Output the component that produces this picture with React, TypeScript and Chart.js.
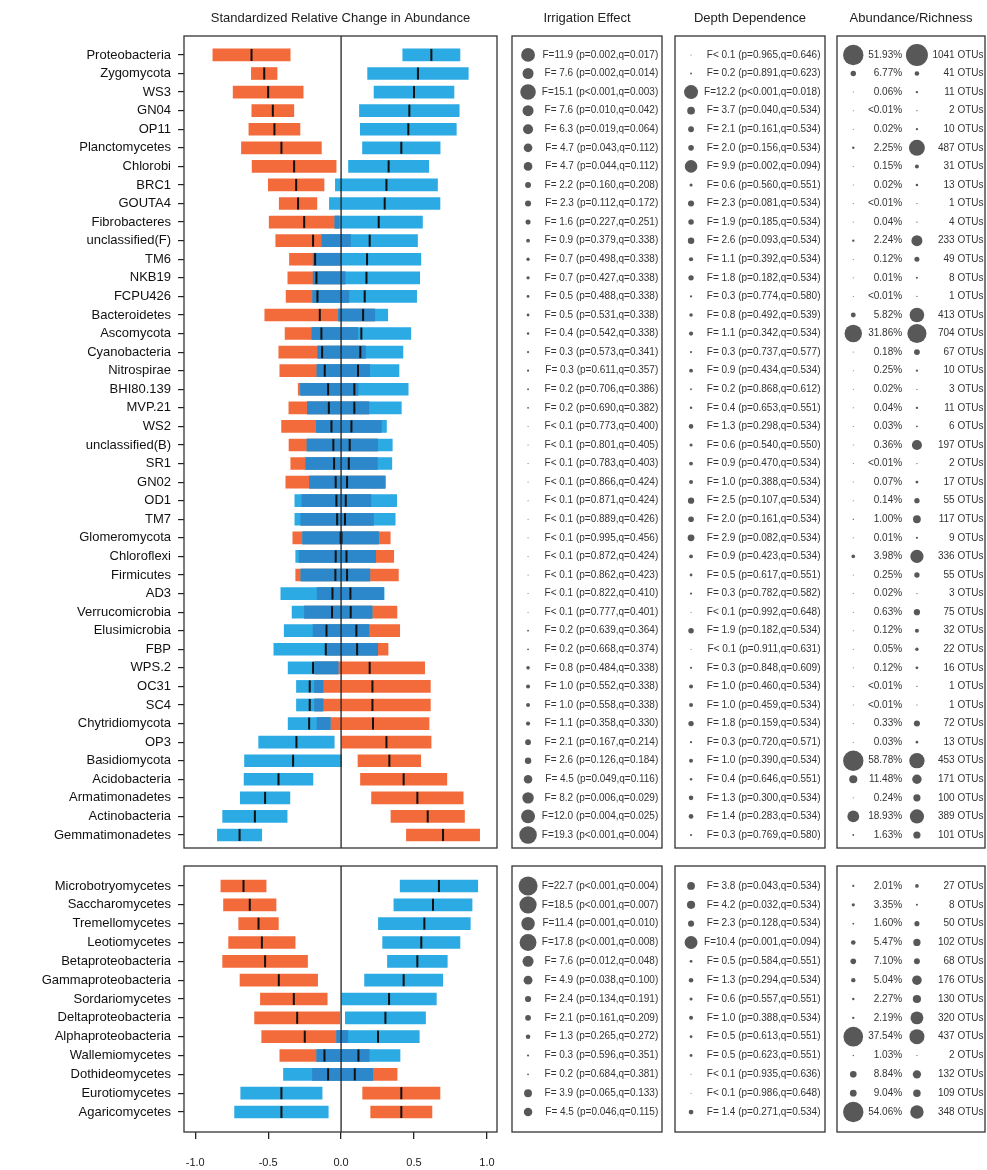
import React, { useEffect, useRef } from "react";
import { Chart, registerables } from "chart.js";

Chart.register(...registerables);
Chart.defaults.font.family = "'Liberation Sans', Arial, Helvetica, sans-serif";
Chart.defaults.color = "#222";

// ---------------- data ----------------
const topTaxa = [
  "Proteobacteria", "Zygomycota", "WS3", "GN04", "OP11", "Planctomycetes", "Chlorobi", "BRC1", "GOUTA4",
  "Fibrobacteres", "unclassified(F)", "TM6", "NKB19", "FCPU426", "Bacteroidetes", "Ascomycota", "Cyanobacteria",
  "Nitrospirae", "BHI80.139", "MVP.21", "WS2", "unclassified(B)", "SR1", "GN02", "OD1", "TM7", "Glomeromycota",
  "Chloroflexi", "Firmicutes", "AD3", "Verrucomicrobia", "Elusimicrobia", "FBP", "WPS.2", "OC31", "SC4",
  "Chytridiomycota", "OP3", "Basidiomycota", "Acidobacteria", "Armatimonadetes", "Actinobacteria", "Gemmatimonadetes",
];
const topOrangeMean = [-0.614, -0.527, -0.5, -0.468, -0.457, -0.409, -0.322, -0.308, -0.295, -0.253, -0.192, -0.178, -0.169, -0.162, -0.146, -0.135, -0.13, -0.112, -0.089, -0.084, -0.066, -0.053, -0.048, -0.037, -0.032, -0.027, 0.003, 0.037, 0.041, 0.064, 0.066, 0.105, 0.11, 0.196, 0.215, 0.215, 0.219, 0.311, 0.331, 0.429, 0.523, 0.594, 0.699];
const topOrangeHalf = [0.265, 0.088, 0.24, 0.144, 0.175, 0.274, 0.288, 0.191, 0.129, 0.24, 0.256, 0.176, 0.196, 0.215, 0.377, 0.249, 0.297, 0.308, 0.205, 0.274, 0.342, 0.304, 0.297, 0.342, 0.236, 0.249, 0.334, 0.324, 0.352, 0.228, 0.317, 0.297, 0.212, 0.377, 0.397, 0.397, 0.384, 0.306, 0.215, 0.296, 0.314, 0.252, 0.251];
const topBlueMean = [0.619, 0.527, 0.5, 0.468, 0.461, 0.413, 0.326, 0.311, 0.299, 0.258, 0.196, 0.178, 0.174, 0.162, 0.151, 0.139, 0.132, 0.116, 0.091, 0.091, 0.071, 0.059, 0.053, 0.041, 0.032, 0.027, -0.003, -0.037, -0.039, -0.059, -0.062, -0.1, -0.105, -0.192, -0.215, -0.215, -0.219, -0.306, -0.329, -0.429, -0.521, -0.591, -0.696];
const topBlueHalf = [0.196, 0.345, 0.274, 0.342, 0.329, 0.266, 0.275, 0.35, 0.379, 0.3, 0.328, 0.369, 0.365, 0.356, 0.169, 0.339, 0.292, 0.281, 0.369, 0.322, 0.24, 0.292, 0.295, 0.258, 0.349, 0.344, 0.26, 0.274, 0.236, 0.354, 0.274, 0.29, 0.356, 0.171, 0.091, 0.091, 0.144, 0.259, 0.333, 0.236, 0.17, 0.221, 0.152];

const bottomTaxa = [
  "Microbotryomycetes", "Saccharomycetes", "Tremellomycetes", "Leotiomycetes", "Betaproteobacteria",
  "Gammaproteobacteria", "Sordariomycetes", "Deltaproteobacteria", "Alphaproteobacteria", "Wallemiomycetes",
  "Dothideomycetes", "Eurotiomycetes", "Agaricomycetes",
];
const botOrangeMean = [-0.669, -0.626, -0.566, -0.543, -0.521, -0.427, -0.324, -0.301, -0.249, -0.114, 0.094, 0.413, 0.413];
const botOrangeHalf = [0.155, 0.18, 0.136, 0.228, 0.291, 0.266, 0.229, 0.292, 0.295, 0.306, 0.29, 0.265, 0.21];
const botBlueMean = [0.671, 0.63, 0.571, 0.55, 0.523, 0.429, 0.329, 0.304, 0.253, 0.119, -0.089, -0.409, -0.409];
const botBlueHalf = [0.266, 0.268, 0.315, 0.265, 0.205, 0.268, 0.324, 0.275, 0.283, 0.285, 0.306, 0.279, 0.321];

const xTicks = [-1, -0.5, 0, 0.5, 1];

// Irrigation effect (F < 0.1 stored as 0.05, p < 0.001 stored as 0.0005)
const irrigTopF = [11.9, 7.6, 15.1, 7.6, 6.3, 4.7, 4.7, 2.2, 2.3, 1.6, 0.9, 0.7, 0.7, 0.5, 0.5, 0.4, 0.3, 0.3, 0.2, 0.2, 0.05, 0.05, 0.05, 0.05, 0.05, 0.05, 0.05, 0.05, 0.05, 0.05, 0.05, 0.2, 0.2, 0.8, 1.0, 1.0, 1.1, 2.1, 2.6, 4.5, 8.2, 12.0, 19.3];
const irrigTopP = [0.002, 0.002, 0.0005, 0.01, 0.019, 0.043, 0.044, 0.16, 0.112, 0.227, 0.379, 0.498, 0.427, 0.488, 0.531, 0.542, 0.573, 0.611, 0.706, 0.69, 0.773, 0.801, 0.783, 0.866, 0.871, 0.889, 0.995, 0.872, 0.862, 0.822, 0.777, 0.639, 0.668, 0.484, 0.552, 0.558, 0.358, 0.167, 0.126, 0.049, 0.006, 0.004, 0.0005];
const irrigTopQ = [0.017, 0.014, 0.003, 0.042, 0.064, 0.112, 0.112, 0.208, 0.172, 0.251, 0.338, 0.338, 0.338, 0.338, 0.338, 0.338, 0.341, 0.357, 0.386, 0.382, 0.4, 0.405, 0.403, 0.424, 0.424, 0.426, 0.456, 0.424, 0.423, 0.41, 0.401, 0.364, 0.374, 0.338, 0.338, 0.338, 0.33, 0.214, 0.184, 0.116, 0.029, 0.025, 0.004];
const irrigBotF = [22.7, 18.5, 11.4, 17.8, 7.6, 4.9, 2.4, 2.1, 1.3, 0.3, 0.2, 3.9, 4.5];
const irrigBotP = [0.0005, 0.0005, 0.001, 0.0005, 0.012, 0.038, 0.134, 0.161, 0.265, 0.596, 0.684, 0.065, 0.046];
const irrigBotQ = [0.004, 0.007, 0.01, 0.008, 0.048, 0.1, 0.191, 0.209, 0.272, 0.351, 0.381, 0.133, 0.115];

// Depth dependence
const depthTopF = [0.05, 0.2, 12.2, 3.7, 2.1, 2.0, 9.9, 0.6, 2.3, 1.9, 2.6, 1.1, 1.8, 0.3, 0.8, 1.1, 0.3, 0.9, 0.2, 0.4, 1.3, 0.6, 0.9, 1.0, 2.5, 2.0, 2.9, 0.9, 0.5, 0.3, 0.05, 1.9, 0.05, 0.3, 1.0, 1.0, 1.8, 0.3, 1.0, 0.4, 1.3, 1.4, 0.3];
const depthTopP = [0.965, 0.891, 0.0005, 0.04, 0.161, 0.156, 0.002, 0.56, 0.081, 0.185, 0.093, 0.392, 0.182, 0.774, 0.492, 0.342, 0.737, 0.434, 0.868, 0.653, 0.298, 0.54, 0.47, 0.388, 0.107, 0.161, 0.082, 0.423, 0.617, 0.782, 0.992, 0.182, 0.911, 0.848, 0.46, 0.459, 0.159, 0.72, 0.39, 0.646, 0.3, 0.283, 0.769];
const depthTopQ = [0.646, 0.623, 0.018, 0.534, 0.534, 0.534, 0.094, 0.551, 0.534, 0.534, 0.534, 0.534, 0.534, 0.58, 0.539, 0.534, 0.577, 0.534, 0.612, 0.551, 0.534, 0.55, 0.534, 0.534, 0.534, 0.534, 0.534, 0.534, 0.551, 0.582, 0.648, 0.534, 0.631, 0.609, 0.534, 0.534, 0.534, 0.571, 0.534, 0.551, 0.534, 0.534, 0.58];
const depthBotF = [3.8, 4.2, 2.3, 10.4, 0.5, 1.3, 0.6, 1.0, 0.5, 0.5, 0.05, 0.05, 1.4];
const depthBotP = [0.043, 0.032, 0.128, 0.001, 0.584, 0.294, 0.557, 0.388, 0.613, 0.623, 0.935, 0.986, 0.271];
const depthBotQ = [0.534, 0.534, 0.534, 0.094, 0.551, 0.534, 0.551, 0.534, 0.551, 0.551, 0.636, 0.648, 0.534];

// Abundance (%; <0.01 stored as 0.005) and richness (OTUs)
const abundTop = [51.93, 6.77, 0.06, 0.005, 0.02, 2.25, 0.15, 0.02, 0.005, 0.04, 2.24, 0.12, 0.01, 0.005, 5.82, 31.86, 0.18, 0.25, 0.02, 0.04, 0.03, 0.36, 0.005, 0.07, 0.14, 1.0, 0.01, 3.98, 0.25, 0.02, 0.63, 0.12, 0.05, 0.12, 0.005, 0.005, 0.33, 0.03, 58.78, 11.48, 0.24, 18.93, 1.63];
const otuTop = [1041, 41, 11, 2, 10, 487, 31, 13, 1, 4, 233, 49, 8, 1, 413, 704, 67, 10, 3, 11, 6, 197, 2, 17, 55, 117, 9, 336, 55, 3, 75, 32, 22, 16, 1, 1, 72, 13, 453, 171, 100, 389, 101];
const abundBot = [2.01, 3.35, 1.6, 5.47, 7.1, 5.04, 2.27, 2.19, 37.54, 1.03, 8.84, 9.04, 54.06];
const otuBot = [27, 8, 50, 102, 68, 176, 130, 320, 437, 2, 132, 109, 348];

// ---------------- layout / style ----------------
const FONT = "'Liberation Sans', Arial, Helvetica, sans-serif";
const ORANGE = "#F36B3B";
const BLUE = "#2BAAE3";
const DARK = "#2C88CB";
const DOT = "#585858";
const TOP_Y0 = 36, TOP_Y1 = 848, BOT_Y0 = 866, BOT_Y1 = 1132;
const BAR_X0 = 184, BAR_X1 = 497;
const X_MIN = -1.077, X_MAX = 1.069;
const TOP_YMIN = -1.02, TOP_YMAX = 42.7;
const BOT_YMIN = -1.06, BOT_YMAX = 13.06;
const TOP_CANVAS_H = 850;
const BOT_CANVAS_TOP = 850, BOT_CANVAS_H = 320;

const fmtF = (F: number, p: number, q: number) => {
  const fs = F < 0.1 ? "F< 0.1" : F >= 10 ? `F=${F.toFixed(1)}` : `F= ${F.toFixed(1)}`;
  const ps = p < 0.001 ? "p<0.001" : `p=${p.toFixed(3)}`;
  return `${fs} (${ps},q=${q.toFixed(3)})`;
};
const fmtPct = (v: number) => (v < 0.01 ? "<0.01%" : `${v.toFixed(2)}%`);
const fmtOtu = (n: number) => `${n} OTUs`;
const fSize = (F: number) => Math.max(0.5, 2.0 * Math.sqrt(F));
const pctSize = (p: number) => Math.max(0.5, Math.min(10.2, 0.65 * Math.pow(p, 0.75)));
const otuSize = (n: number) => Math.max(0.6, Math.min(11, 0.36 * Math.sqrt(n)));

const titleOpts = (text: string) => ({
  display: true,
  text,
  fullSize: false,
  color: "#222",
  font: { size: 13, weight: "normal" as const, family: FONT },
  padding: { top: 11, bottom: 9.4 },
});

const boxPlugin = {
  id: "panelBox",
  afterDraw(chart: any) {
    const { ctx, chartArea: a } = chart;
    ctx.save();
    ctx.strokeStyle = "#333";
    ctx.lineWidth = 1.3;
    ctx.strokeRect(a.left, a.top, a.right - a.left, a.bottom - a.top);
    ctx.restore();
  },
};

const zeroLinePlugin = {
  id: "zeroLine",
  afterDatasetsDraw(chart: any) {
    const { ctx, chartArea: a, scales } = chart;
    const x = scales.x.getPixelForValue(0);
    ctx.save();
    ctx.strokeStyle = "#222";
    ctx.lineWidth = 1.3;
    ctx.beginPath();
    ctx.moveTo(x, a.top);
    ctx.lineTo(x, a.bottom);
    ctx.stroke();
    ctx.restore();
  },
};

function textPlugin(cols: { x: number; texts: string[] }[]) {
  return {
    id: "colText",
    afterDatasetsDraw(chart: any) {
      const { ctx, scales } = chart;
      ctx.save();
      ctx.font = `10px ${FONT}`;
      ctx.fillStyle = "#333";
      ctx.textAlign = "right";
      ctx.textBaseline = "middle";
      cols.forEach((c) =>
        c.texts.forEach((t, i) => ctx.fillText(t, scales.x.getPixelForValue(c.x), scales.y.getPixelForValue(i)))
      );
      ctx.restore();
    },
  };
}

function barConfig(
  names: string[], oM: number[], oH: number[], bM: number[], bH: number[],
  yMin: number, yMax: number, isBottom: boolean, canvasW: number, canvasH: number
): any {
  const orange = names.map((_, i) => ({ x: [oM[i] - oH[i], oM[i] + oH[i]], y: i }));
  const blue = names.map((_, i) => ({ x: [bM[i] - bH[i], bM[i] + bH[i]], y: i }));
  const overlap = names
    .map((_, i) => {
      const lo = Math.max(oM[i] - oH[i], bM[i] - bH[i]);
      const hi = Math.min(oM[i] + oH[i], bM[i] + bH[i]);
      return lo < hi ? { x: [lo, hi], y: i } : null;
    })
    .filter(Boolean);
  const tickDs = (means: number[]) => ({
    type: "scatter",
    data: means.map((m, i) => ({ x: m, y: i })),
    pointStyle: "line",
    pointRotation: 90,
    pointRadius: 6,
    pointBorderWidth: 2,
    pointBorderColor: "#111",
    pointBackgroundColor: "#111",
    order: 0,
  });
  const barDs = (data: any[], color: string, order: number) => ({
    type: "bar",
    indexAxis: "y",
    data,
    backgroundColor: color,
    borderWidth: 0,
    grouped: false,
    barThickness: 12,
    order,
  });
  return {
    type: "bar",
    data: {
      datasets: [
        barDs(orange, ORANGE, 3),
        barDs(blue, BLUE, 2),
        barDs(overlap, DARK, 1),
        tickDs(oM),
        tickDs(bM),
      ],
    },
    options: {
      responsive: false,
      animation: false,
      events: [],
      layout: {
        autoPadding: false,
        padding: {
          left: 0,
          right: canvasW - BAR_X1,
          top: isBottom ? BOT_Y0 - BOT_CANVAS_TOP : 0,
          bottom: isBottom ? 0 : canvasH - TOP_Y1,
        },
      },
      plugins: {
        legend: { display: false },
        tooltip: { enabled: false },
        title: isBottom ? { display: false } : titleOpts("Standardized Relative Change in Abundance"),
      },
      scales: {
        x: {
          type: "linear",
          display: isBottom,
          min: X_MIN,
          max: X_MAX,
          offset: false,
          afterBuildTicks: (s: any) => {
            s.ticks = xTicks.map((v) => ({ value: v }));
          },
          afterFit: (s: any) => {
            if (isBottom) s.height = canvasH - (BOT_Y1 - BOT_CANVAS_TOP);
            s.paddingLeft = 0;
            s.paddingRight = 0;
          },
          ticks: {
            callback: (v: any) => Number(v).toFixed(1),
            font: { size: 11, family: FONT },
            color: "#222",
            padding: 17,
            maxRotation: 0,
            autoSkip: false,
          },
          grid: { drawOnChartArea: false, drawTicks: true, tickLength: 7, color: "#222", lineWidth: 1.3, offset: false },
          border: { display: false },
        },
        y: {
          type: "linear",
          reverse: true,
          min: yMin,
          max: yMax,
          offset: false,
          afterBuildTicks: (s: any) => {
            s.ticks = names.map((_, i) => ({ value: i }));
          },
          afterFit: (s: any) => {
            s.width = BAR_X0;
            s.paddingTop = 0;
            s.paddingBottom = 0;
          },
          ticks: {
            autoSkip: false,
            callback: (v: any) => names[v] ?? "",
            font: { size: 13, family: FONT },
            color: "#111",
            padding: 7,
          },
          grid: { drawOnChartArea: false, drawTicks: true, tickLength: 6, color: "#222", lineWidth: 1.2, offset: false },
          border: { display: false },
        },
      },
    },
    plugins: [boxPlugin, zeroLinePlugin],
  };
}

type DotCol = { x: number; values: number[]; size: (v: number) => number };

function columnConfig(
  dots: DotCol[], texts: { x: number; texts: string[] }[], yMin: number, yMax: number,
  isBottom: boolean, title: string, canvasH: number
): any {
  return {
    type: "scatter",
    data: {
      datasets: dots.map((d) => ({
        data: d.values.map((_, i) => ({ x: d.x, y: i })),
        pointRadius: (ctx: any) => d.size(d.values[ctx.dataIndex]),
        pointBackgroundColor: DOT,
        pointBorderWidth: 0,
        pointBorderColor: DOT,
      })),
    },
    options: {
      responsive: false,
      animation: false,
      events: [],
      layout: {
        autoPadding: false,
        padding: {
          left: 2,
          right: 2,
          top: isBottom ? BOT_Y0 - BOT_CANVAS_TOP : 0,
          bottom: isBottom ? canvasH - (BOT_Y1 - BOT_CANVAS_TOP) : canvasH - TOP_Y1,
        },
      },
      plugins: {
        legend: { display: false },
        tooltip: { enabled: false },
        title: isBottom ? { display: false } : titleOpts(title),
      },
      scales: {
        x: { type: "linear", display: false, min: 0, max: 1 },
        y: { type: "linear", display: false, min: yMin, max: yMax, reverse: true },
      },
    },
    plugins: [boxPlugin, textPlugin(texts)],
  };
}

function ChartCanvas({ left, top, width, height, make }: { left: number; top: number; width: number; height: number; make: () => any }) {
  const ref = useRef<HTMLCanvasElement>(null);
  useEffect(() => {
    const chart = new Chart(ref.current as HTMLCanvasElement, make());
    return () => chart.destroy();
  }, []);
  return (
    <canvas
      ref={ref}
      width={width}
      height={height}
      style={{ position: "absolute", left, top, width, height }}
    />
  );
}

const COLS = [
  { x0: 512, x1: 662 },
  { x0: 675, x1: 825 },
  { x0: 837, x1: 985 },
];

export default function App() {
  const topIrrigText = irrigTopF.map((f, i) => fmtF(f, irrigTopP[i], irrigTopQ[i]));
  const botIrrigText = irrigBotF.map((f, i) => fmtF(f, irrigBotP[i], irrigBotQ[i]));
  const topDepthText = depthTopF.map((f, i) => fmtF(f, depthTopP[i], depthTopQ[i]));
  const botDepthText = depthBotF.map((f, i) => fmtF(f, depthBotP[i], depthBotQ[i]));

  const colW = (c: { x0: number; x1: number }) => c.x1 - c.x0 + 4;

  return (
    <div style={{ position: "absolute", left: 0, top: 0, width: 987, height: 1170, background: "#fff" }}>
      <ChartCanvas
        left={0} top={0} width={500} height={TOP_CANVAS_H}
        make={() => barConfig(topTaxa, topOrangeMean, topOrangeHalf, topBlueMean, topBlueHalf, TOP_YMIN, TOP_YMAX, false, 500, TOP_CANVAS_H)}
      />
      <ChartCanvas
        left={0} top={BOT_CANVAS_TOP} width={500} height={BOT_CANVAS_H}
        make={() => barConfig(bottomTaxa, botOrangeMean, botOrangeHalf, botBlueMean, botBlueHalf, BOT_YMIN, BOT_YMAX, true, 500, BOT_CANVAS_H)}
      />
      {/* Irrigation effect */}
      <ChartCanvas
        left={COLS[0].x0 - 2} top={0} width={colW(COLS[0])} height={TOP_CANVAS_H}
        make={() => columnConfig([{ x: 0.107, values: irrigTopF, size: fSize }], [{ x: 0.975, texts: topIrrigText }], TOP_YMIN, TOP_YMAX, false, "Irrigation Effect", TOP_CANVAS_H)}
      />
      <ChartCanvas
        left={COLS[0].x0 - 2} top={BOT_CANVAS_TOP} width={colW(COLS[0])} height={300}
        make={() => columnConfig([{ x: 0.107, values: irrigBotF, size: fSize }], [{ x: 0.975, texts: botIrrigText }], BOT_YMIN, BOT_YMAX, true, "", 300)}
      />
      {/* Depth dependence */}
      <ChartCanvas
        left={COLS[1].x0 - 2} top={0} width={colW(COLS[1])} height={TOP_CANVAS_H}
        make={() => columnConfig([{ x: 0.107, values: depthTopF, size: fSize }], [{ x: 0.97, texts: topDepthText }], TOP_YMIN, TOP_YMAX, false, "Depth Dependence", TOP_CANVAS_H)}
      />
      <ChartCanvas
        left={COLS[1].x0 - 2} top={BOT_CANVAS_TOP} width={colW(COLS[1])} height={300}
        make={() => columnConfig([{ x: 0.107, values: depthBotF, size: fSize }], [{ x: 0.97, texts: botDepthText }], BOT_YMIN, BOT_YMAX, true, "", 300)}
      />
      {/* Abundance / Richness */}
      <ChartCanvas
        left={COLS[2].x0 - 2} top={0} width={colW(COLS[2])} height={TOP_CANVAS_H}
        make={() =>
          columnConfig(
            [
              { x: 0.11, values: abundTop, size: pctSize },
              { x: 0.54, values: otuTop, size: otuSize },
            ],
            [
              { x: 0.44, texts: abundTop.map(fmtPct) },
              { x: 0.99, texts: otuTop.map(fmtOtu) },
            ],
            TOP_YMIN, TOP_YMAX, false, "Abundance/Richness", TOP_CANVAS_H
          )
        }
      />
      <ChartCanvas
        left={COLS[2].x0 - 2} top={BOT_CANVAS_TOP} width={colW(COLS[2])} height={300}
        make={() =>
          columnConfig(
            [
              { x: 0.11, values: abundBot, size: pctSize },
              { x: 0.54, values: otuBot, size: otuSize },
            ],
            [
              { x: 0.44, texts: abundBot.map(fmtPct) },
              { x: 0.99, texts: otuBot.map(fmtOtu) },
            ],
            BOT_YMIN, BOT_YMAX, true, "", 300
          )
        }
      />
    </div>
  );
}
